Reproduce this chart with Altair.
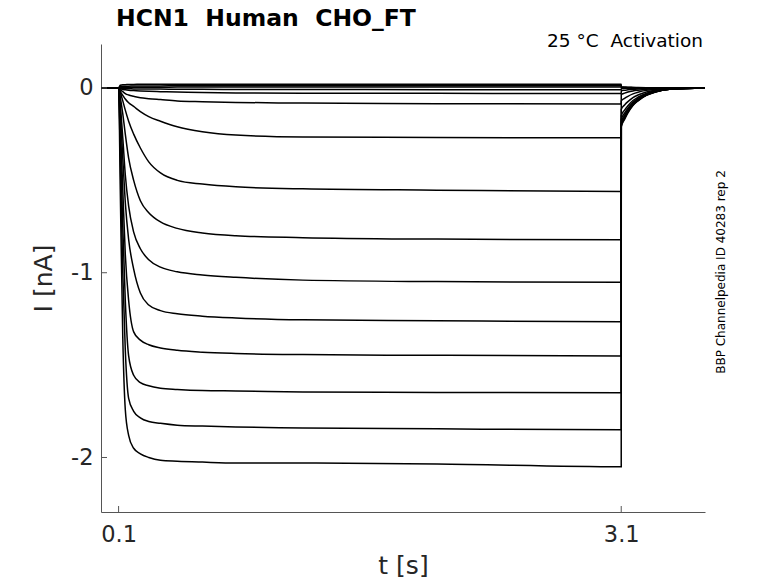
import altair as alt
import pandas as pd

# ---- data ----
t_hold = [-0.005]
t_step = [0.1, 0.11, 0.125, 0.14, 0.16, 0.19, 0.23, 0.28, 0.35, 0.45, 0.6, 0.8, 1.2, 2.0, 3.1]
t_tail = [3.1003, 3.12, 3.14, 3.17, 3.2, 3.25, 3.3, 3.4, 3.6]

trace_names = ["A", "B", "C", "D", "E", "F", "G", "H", "I", "J", "K", "L", "M", "N", "O"]

step_A = [0, -0.55, -1.35, -1.74, -1.88, -1.95, -1.98, -2.0, -2.015, -2.02, -2.025, -2.03, -2.03, -2.035, -2.05]
step_B = [0, -0.38, -1.0, -1.42, -1.68, -1.75, -1.785, -1.805, -1.815, -1.825, -1.83, -1.835, -1.84, -1.845, -1.85]
step_C = [0, -0.28, -0.75, -1.15, -1.45, -1.555, -1.595, -1.612, -1.625, -1.632, -1.638, -1.64, -1.645, -1.648, -1.65]
step_D = [0, -0.2, -0.55, -0.9, -1.15, -1.32, -1.365, -1.39, -1.407, -1.42, -1.43, -1.437, -1.443, -1.447, -1.45]
step_E = [0, -0.13, -0.38, -0.62, -0.82, -0.98, -1.11, -1.175, -1.205, -1.222, -1.235, -1.245, -1.255, -1.26, -1.265]
step_F = [0, -0.09, -0.27, -0.47, -0.64, -0.78, -0.87, -0.93, -0.97, -0.995, -1.012, -1.025, -1.04, -1.048, -1.052]
step_G = [0, -0.05, -0.14, -0.25, -0.38, -0.5, -0.61, -0.675, -0.725, -0.76, -0.785, -0.8, -0.81, -0.818, -0.822]
step_H = [0, -0.025, -0.07, -0.12, -0.18, -0.25, -0.325, -0.4, -0.46, -0.5, -0.52, -0.535, -0.546, -0.553, -0.56]
step_I = [0, -0.02, -0.04, -0.06, -0.08, -0.1, -0.128, -0.155, -0.18, -0.21, -0.237, -0.255, -0.265, -0.268, -0.27]
step_J = [0, -0.01, -0.02, -0.03, -0.038, -0.045, -0.053, -0.058, -0.063, -0.07, -0.074, -0.078, -0.082, -0.085, -0.087]
step_K = [0, -0.005, -0.008, -0.01, -0.012, -0.014, -0.016, -0.018, -0.02, -0.022, -0.025, -0.027, -0.028, -0.029, -0.03]
step_L = [0, 0.015, 0.018, 0.018, 0.019, 0.019, 0.02, 0.02, 0.02, 0.02, 0.02, 0.02, 0.02, 0.02, 0.02]
step_M = [0, 0.008, 0.01, 0.01, 0.01, 0.011, 0.011, 0.011, 0.011, 0.012, 0.012, 0.012, 0.012, 0.012, 0.012]
step_N = [0, 0.003, 0.004, 0.004, 0.004, 0.004, 0.004, 0.004, 0.004, 0.005, 0.005, 0.005, 0.005, 0.005, 0.005]
step_O = [0, -0.002, -0.003, -0.004, -0.004, -0.005, -0.005, -0.006, -0.006, -0.007, -0.007, -0.008, -0.008, -0.009, -0.01]

tail_A = [-0.21, -0.17, -0.135, -0.095, -0.07, -0.04, -0.023, -0.006, 0.0]
tail_B = [-0.205, -0.165, -0.13, -0.092, -0.068, -0.039, -0.022, -0.006, 0.0]
tail_C = [-0.2, -0.16, -0.128, -0.09, -0.066, -0.038, -0.022, -0.006, 0.0]
tail_D = [-0.195, -0.156, -0.125, -0.088, -0.064, -0.037, -0.021, -0.006, 0.0]
tail_E = [-0.185, -0.148, -0.118, -0.083, -0.061, -0.035, -0.02, -0.005, 0.0]
tail_F = [-0.17, -0.136, -0.109, -0.077, -0.056, -0.032, -0.019, -0.005, 0.0]
tail_G = [-0.15, -0.12, -0.096, -0.068, -0.05, -0.029, -0.017, -0.004, 0.0]
tail_H = [-0.115, -0.092, -0.074, -0.052, -0.038, -0.022, -0.013, -0.003, 0.0]
tail_I = [-0.07, -0.056, -0.045, -0.032, -0.023, -0.013, -0.008, -0.002, 0.0]
tail_J = [-0.035, -0.028, -0.022, -0.016, -0.012, -0.007, -0.004, -0.001, 0.0]
tail_K = [-0.015, -0.012, -0.01, -0.007, -0.005, -0.003, -0.002, 0.0, 0.0]
tail_L = [0.006, 0.005, 0.004, 0.003, 0.002, 0.001, 0.0, 0.0, 0.0]
tail_M = [0.004, 0.003, 0.002, 0.002, 0.001, 0.0, 0.0, 0.0, 0.0]
tail_N = [0.002, 0.001, 0.001, 0.0, 0.0, 0.0, 0.0, 0.0, 0.0]
tail_O = [-0.003, -0.002, -0.002, -0.001, -0.001, 0.0, 0.0, 0.0, 0.0]

hold_value = [0.0]

x_ticks = [0.1, 3.1]
y_ticks = [-2, -1, 0]

NB = "\u00a0"
title_text = "HCN1" + NB + NB + "Human" + NB + NB + "CHO_FT"
subtitle_text = "25" + NB + "°C" + NB + NB + "Activation"
side_text = "BBP Channelpedia ID 40283 rep 2"

steps = [step_A, step_B, step_C, step_D, step_E, step_F, step_G, step_H,
         step_I, step_J, step_K, step_L, step_M, step_N, step_O]
tails = [tail_A, tail_B, tail_C, tail_D, tail_E, tail_F, tail_G, tail_H,
         tail_I, tail_J, tail_K, tail_L, tail_M, tail_N, tail_O]

rows = []
for name, st, tl in zip(trace_names, steps, tails):
    seq = list(zip(t_hold, hold_value)) + list(zip(t_step, st)) + list(zip(t_tail, tl))
    for i, (t, v) in enumerate(seq):
        rows.append({"trace": name, "i": i, "t": t, "I": v})
df = pd.DataFrame(rows)

W, H = 604, 468
AX = "#555555"
LAB = "#262626"
FONT = "DejaVu Sans"

xscale = alt.Scale(domain=[-0.005, 3.6], nice=False, zero=False)
yscale = alt.Scale(domain=[-2.295, 0.238], nice=False, zero=False)

lines = alt.Chart(df).mark_line(color="black", strokeWidth=1.5, interpolate="monotone", clip=True).encode(
    x=alt.X("t:Q", scale=xscale,
            axis=alt.Axis(values=x_ticks, format=".1f", title="t [s]", grid=False, ticks=False, tickSize=0,
                          domainColor=AX, domainWidth=1, labelFont=FONT, labelFontSize=22.5,
                          labelColor=LAB, labelPadding=11, titleFont=FONT, titleFontSize=25,
                          titleFontWeight="normal", titleColor=LAB, titlePadding=8)),
    y=alt.Y("I:Q", scale=yscale,
            axis=alt.Axis(values=y_ticks, title="I [nA]", grid=False, ticks=False, tickSize=0,
                          labelExpr="datum.value == 0 ? '0' : '-' + abs(datum.value)",
                          domainColor=AX, domainWidth=1, labelFont=FONT, labelFontSize=22.5,
                          labelColor=LAB, labelPadding=8, titleFont=FONT, titleFontSize=25,
                          titleFontWeight="normal", titleColor=LAB, titlePadding=14)),
    detail="trace:N",
    order="i:Q",
)

xt = alt.Chart(pd.DataFrame({"v": x_ticks})).mark_rule(color=AX, strokeWidth=1).encode(
    x=alt.X("v:Q", scale=xscale), y=alt.value(H), y2=alt.value(H - 6))
yt = alt.Chart(pd.DataFrame({"v": y_ticks})).mark_rule(color=AX, strokeWidth=1).encode(
    y=alt.Y("v:Q", scale=yscale), x=alt.value(0), x2=alt.value(6))

one = pd.DataFrame({"k": [0]})
title = alt.Chart(one).mark_text(font=FONT, fontSize=23.5, fontWeight="bold", align="left",
                                 baseline="alphabetic", color="black").encode(
    x=alt.value(15), y=alt.value(-18), text=alt.value(title_text))
sub = alt.Chart(one).mark_text(font=FONT, fontSize=18.5, align="right",
                               baseline="alphabetic", color="black").encode(
    x=alt.value(602), y=alt.value(3), text=alt.value(subtitle_text))
side = alt.Chart(one).mark_text(font=FONT, fontSize=12, align="center", angle=270,
                                baseline="middle", color="black").encode(
    x=alt.value(620), y=alt.value(228), text=alt.value(side_text))

chart = alt.layer(lines, xt, yt, title, sub, side).properties(
    width=W, height=H,
    autosize=alt.AutoSizeParams(type="none"),
    padding={"left": 93, "top": 36, "right": 65, "bottom": 72},
).configure_view(stroke=None)

chart.save("out.html", embed_options={"renderer": "svg", "actions": False})
